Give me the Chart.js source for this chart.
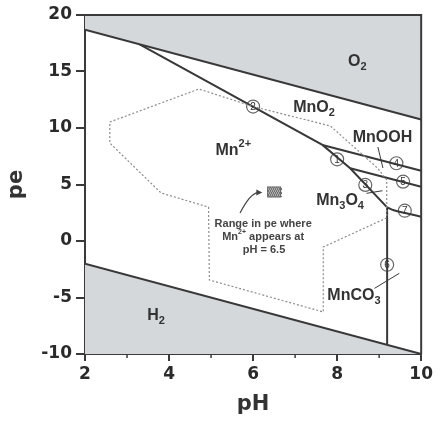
<!DOCTYPE html>
<html>
<head>
<meta charset="utf-8">
<script src="https://cdn.jsdelivr.net/npm/chart.js@4.4.1/dist/chart.umd.min.js"></script>
<style>
    html, body { margin: 0; padding: 0; background: #fff; }
    #wrap { width: 436px; height: 421px; }
</style>
</head>
<body>
<div id="wrap"><canvas id="peChart" width="436" height="421"></canvas></div>
<script>
// Hranice stability jako body [pH, pe]
const o2Boundary = [[2, 18.7], [10, 10.75]];
const h2Boundary = [[2, -2], [10, -10]];
const mn2Boundary = [[3.3, 17.4], [7.65, 8.5], [8.31, 6.43], [9.19, 2.98]];
const mnooh4 = [[7.65, 8.5], [10, 6.22]];
const mn3o4Line5 = [[8.31, 6.43], [10, 4.8]];
const mnco3Line7 = [[9.19, 2.98], [9.35, 2.72], [10, 2.15]];
const mnco3Line6 = [[9.19, 2.98], [9.19, -9.19]];

// Oblast pe, kde se objevuje Mn2+ (tečkovaný polygon)
const mn2Range = [
    [2.59, 10.53], [4.71, 13.45], [6.0, 11.9], [7.84, 10.18], [8.96, 6.46],
    [9.18, 5.4], [9.18, 2.04], [7.67, -0.53], [7.67, -6.28], [4.96, -3.45],
    [4.94, 3.0], [3.81, 4.25], [2.59, 8.67], [2.59, 10.53]
];

// Číslované reakce
const reactionIds = ['1', '2', '3', '4', '5', '6', '7'];
const reactionPoints = [[8.0, 7.23], [6.0, 11.9], [8.67, 4.96], [9.41, 6.88], [9.57, 5.25], [9.19, -2.1], [9.61, 2.68]];

// Krátké odkazové čáry
const leaderMnOOH = [[8.97, 8.32], [9.09, 6.46]];
const leaderMn3O4 = [[8.7, 4.22], [9.08, 4.45]];
const leaderMnCO3 = [[8.89, -4.19], [9.48, -2.86]];

const xTicks = [2, 4, 6, 8, 10];
const xMinorTicks = [3, 5, 7, 9];
const yTicks = [-10, -5, 0, 5, 10, 15, 20];

const LINE = '#383838';
const AXIS = '#3a3a3a';
const SHADE = '#d4d8db';
const FONT = "'Liberation Sans', Arial, sans-serif";
const AXIS_FONT = "'DejaVu Sans', sans-serif";

function toXY(arr) {
    return arr.map(p => ({ x: p[0], y: p[1] }));
}

function boundary(pts, extra) {
    return Object.assign({
        data: toXY(pts),
        showLine: true,
        borderColor: LINE,
        borderWidth: 2,
        pointRadius: 0,
        fill: false,
        tension: 0
    }, extra || {});
}

// Popisky oblastí: [text, posun] kde posun 0 = normální, 1 = dolní index, -1 = horní index
const regionLabels = [
    { at: [8.48, 15.85], parts: [['O', 0], ['2', 1]] },
    { at: [7.45, 11.8], parts: [['MnO', 0], ['2', 1]] },
    { at: [9.08, 9.16], parts: [['MnOOH', 0]] },
    { at: [5.53, 7.96], parts: [['Mn', 0], ['2+', -1]] },
    { at: [8.07, 3.54], parts: [['Mn', 0], ['3', 1], ['O', 0], ['4', 1]] },
    { at: [8.4, -4.87], parts: [['MnCO', 0], ['3', 1]] },
    { at: [3.69, -6.6], parts: [['H', 0], ['2', 1]] }
];

const noteLines = [
    { at: [6.24, 1.5], parts: [['Range in pe where', 0]] },
    { at: [6.24, 0.35], parts: [['Mn', 0], ['2+', -1], [' appears at', 0]] },
    { at: [6.26, -0.8], parts: [['pH = 6.5', 0]] }
];
const markerAt = [6.5, 4.34];
const arrowFrom = [5.69, 2.47];
const arrowTo = [6.22, 4.3];

function drawParts(ctx, parts, cx, cy, size, color) {
    const small = Math.round(size * 0.68);
    let total = 0;
    parts.forEach(p => {
        ctx.font = 'bold ' + (p[1] ? small : size) + 'px ' + FONT;
        total += ctx.measureText(p[0]).width;
    });
    let xx = cx - total / 2;
    ctx.fillStyle = color;
    ctx.textAlign = 'left';
    ctx.textBaseline = 'middle';
    parts.forEach(p => {
        const s = p[1] ? small : size;
        ctx.font = 'bold ' + s + 'px ' + FONT;
        const dy = p[1] === 1 ? size * 0.33 : (p[1] === -1 ? -size * 0.42 : 0);
        ctx.fillText(p[0], xx, cy + dy);
        xx += ctx.measureText(p[0]).width;
    });
}

const extras = {
    id: 'extras',
    afterDatasetsDraw(chart) {
        const { ctx, chartArea: a, scales: { x, y } } = chart;
        ctx.save();

        // Horní a pravý okraj rámečku
        ctx.strokeStyle = AXIS;
        ctx.lineWidth = 2;
        ctx.beginPath();
        ctx.moveTo(a.left, a.top);
        ctx.lineTo(a.right, a.top);
        ctx.lineTo(a.right, a.bottom);
        ctx.stroke();

        // Vedlejší značky na ose x
        ctx.lineWidth = 1.5;
        xMinorTicks.forEach(v => {
            const px = x.getPixelForValue(v);
            ctx.beginPath();
            ctx.moveTo(px, a.bottom);
            ctx.lineTo(px, a.bottom + 4);
            ctx.stroke();
        });

        // Čísla v kroužcích
        ctx.font = '10px ' + FONT;
        ctx.fillStyle = '#333';
        ctx.textAlign = 'center';
        ctx.textBaseline = 'middle';
        reactionPoints.forEach((p, i) => {
            ctx.fillText(reactionIds[i], x.getPixelForValue(p[0]), y.getPixelForValue(p[1]) + 0.5);
        });

        // Popisky oblastí
        regionLabels.forEach(l => {
            drawParts(ctx, l.parts, x.getPixelForValue(l.at[0]), y.getPixelForValue(l.at[1]), 16, '#333');
        });
        noteLines.forEach(l => {
            drawParts(ctx, l.parts, x.getPixelForValue(l.at[0]), y.getPixelForValue(l.at[1]), 11, '#444');
        });

        // Šachovnicový symbol
        const mx = x.getPixelForValue(markerAt[0]);
        const my = y.getPixelForValue(markerAt[1]);
        ctx.fillStyle = '#fff';
        ctx.fillRect(mx - 6.5, my - 5, 13, 10);
        ctx.fillStyle = '#555';
        for (let i = 0; i < 13; i += 2) {
            for (let j = 0; j < 10; j += 2) {
                ctx.fillRect(mx - 6.5 + i + ((j / 2) % 2), my - 5 + j, 1.2, 1.2);
                ctx.fillRect(mx - 6.5 + i + 1 - ((j / 2) % 2), my - 5 + j + 1, 1.2, 1.2);
            }
        }
        ctx.strokeStyle = '#666';
        ctx.lineWidth = 1;
        ctx.strokeRect(mx - 6.5, my - 5, 13, 10);

        // Šipka
        const ax0 = x.getPixelForValue(arrowFrom[0]);
        const ay0 = y.getPixelForValue(arrowFrom[1]);
        const ax1 = x.getPixelForValue(arrowTo[0]);
        const ay1 = y.getPixelForValue(arrowTo[1]);
        ctx.strokeStyle = '#444';
        ctx.lineWidth = 1.2;
        ctx.beginPath();
        ctx.moveTo(ax0, ay0);
        ctx.quadraticCurveTo(ax0 + 10, ay1 + 1, ax1 - 4, ay1);
        ctx.stroke();
        ctx.fillStyle = '#444';
        ctx.beginPath();
        ctx.moveTo(ax1, ay1);
        ctx.lineTo(ax1 - 6, ay1 - 3);
        ctx.lineTo(ax1 - 6, ay1 + 3);
        ctx.closePath();
        ctx.fill();

        ctx.restore();
    }
};

new Chart(document.getElementById('peChart'), {
    type: 'scatter',
    data: {
        datasets: [
            boundary(o2Boundary, { fill: 'end', backgroundColor: SHADE }),
            boundary(h2Boundary, { fill: 'start', backgroundColor: SHADE }),
            boundary(mn2Range, { borderColor: '#8c8c8c', borderWidth: 1.2, borderDash: [2, 2] }),
            boundary(mn2Boundary),
            boundary(mnooh4),
            boundary(mn3o4Line5),
            boundary(mnco3Line7, { tension: 0.35 }),
            boundary(mnco3Line6),
            boundary(leaderMnOOH, { borderWidth: 1 }),
            boundary(leaderMn3O4, { borderWidth: 1 }),
            boundary(leaderMnCO3, { borderWidth: 1 }),
            {
                data: toXY(reactionPoints),
                pointRadius: 6.5,
                pointBackgroundColor: '#fff',
                pointBorderColor: '#666',
                pointBorderWidth: 1.2
            }
        ]
    },
    options: {
        responsive: false,
        animation: false,
        layout: { padding: { top: 15, right: 11, left: 0, bottom: 0 } },
        plugins: {
            legend: { display: false },
            tooltip: { enabled: false }
        },
        scales: {
            x: {
                type: 'linear',
                min: 2,
                max: 10,
                afterBuildTicks: s => { s.ticks = xTicks.map(v => ({ value: v })); },
                afterFit: s => { s.height = 67; },
                grid: { drawOnChartArea: false, drawTicks: true, tickLength: 7, color: AXIS, lineWidth: 2 },
                border: { display: true, color: AXIS, width: 2 },
                ticks: { color: '#2a2a2a', padding: 3, maxRotation: 0, font: { family: AXIS_FONT, size: 17, weight: 'bold' } },
                title: { display: true, text: 'pH', color: '#333', padding: { top: 0, bottom: 4 }, font: { family: AXIS_FONT, size: 21, weight: 'bold' } }
            },
            y: {
                type: 'linear',
                min: -10,
                max: 20,
                afterBuildTicks: s => { s.ticks = yTicks.map(v => ({ value: v })); },
                afterFit: s => { s.width = 85; },
                grid: { drawOnChartArea: false, drawTicks: true, tickLength: 9, color: AXIS, lineWidth: 2 },
                border: { display: true, color: AXIS, width: 2 },
                ticks: { color: '#2a2a2a', padding: 4, font: { family: AXIS_FONT, size: 17, weight: 'bold' } },
                title: { display: true, text: 'pe', color: '#333', padding: { top: 4, bottom: 0 }, font: { family: AXIS_FONT, size: 21, weight: 'bold' } }
            }
        }
    },
    plugins: [extras]
});
</script>
</body>
</html>
